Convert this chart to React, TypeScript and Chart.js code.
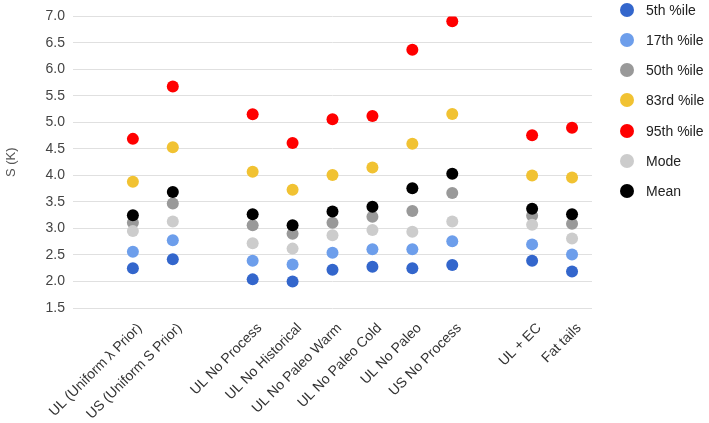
import React, { useEffect, useRef } from "react";
import { Chart, registerables } from "chart.js";

Chart.register(...registerables);

const categories = [
  "",
  "UL (Uniform λ Prior)",
  "US (Uniform S Prior)",
  "",
  "UL No Process",
  "UL No Historical",
  "UL No Paleo Warm",
  "UL No Paleo Cold",
  "UL No Paleo",
  "US No Process",
  "",
  "UL + EC",
  "Fat tails",
];

const p5 = [null, 2.25, 2.42, null, 2.04, 2.0, 2.22, 2.28, 2.25, 2.31, null, 2.39, 2.19];
const p17 = [null, 2.56, 2.78, null, 2.39, 2.32, 2.54, 2.61, 2.61, 2.76, null, 2.7, 2.51];
const p50 = [null, 3.11, 3.47, null, 3.06, 2.9, 3.11, 3.22, 3.33, 3.67, null, 3.24, 3.09];
const p83 = [null, 3.88, 4.53, null, 4.07, 3.73, 4.01, 4.15, 4.6, 5.16, null, 4.0, 3.96];
const p95 = [null, 4.69, 5.68, null, 5.155, 4.61, 5.06, 5.12, 6.37, 6.91, null, 4.76, 4.9];
const modeVals = [null, 2.95, 3.13, null, 2.72, 2.62, 2.87, 2.97, 2.94, 3.13, null, 3.07, 2.81];
const meanVals = [null, 3.25, 3.69, null, 3.27, 3.06, 3.32, 3.41, 3.76, 4.03, null, 3.37, 3.27];

const seriesNames = ["5th %ile", "17th %ile", "50th %ile", "83rd %ile", "95th %ile", "Mode", "Mean"];
const seriesColors = ["#3366cc", "#6d9eeb", "#999999", "#f1c232", "#ff0000", "#cccccc", "#000000"];
const seriesData = [p5, p17, p50, p83, p95, modeVals, meanVals];

const yMin = 1.5;
const yMax = 7.0;
const yStep = 0.5;
const yTitle = "S (K)";

const FONT = 'Arial, "Liberation Sans", sans-serif';

export default function App() {
  const canvasRef = useRef<HTMLCanvasElement | null>(null);

  useEffect(() => {
    const canvas = canvasRef.current;
    if (!canvas) return;
    const chart = new Chart(canvas, {
      type: "line",
      data: {
        labels: categories,
        datasets: seriesData.map((d, i) => ({
          label: seriesNames[i],
          data: d,
          showLine: false,
          borderColor: seriesColors[i],
          backgroundColor: seriesColors[i],
          pointBackgroundColor: seriesColors[i],
          pointBorderColor: seriesColors[i],
          pointBorderWidth: 0,
          pointRadius: 6,
          pointHoverRadius: 6,
          order: seriesData.length - 1 - i,
        })),
      },
      options: {
        animation: false,
        responsive: false,
        maintainAspectRatio: false,
        layout: { padding: { top: 10, right: 8, left: 0, bottom: 0 } },
        plugins: {
          legend: { display: false },
          tooltip: { enabled: false },
        },
        scales: {
          x: {
            type: "category",
            offset: true,
            grid: { display: false },
            border: { display: false },
            ticks: {
              autoSkip: false,
              minRotation: 45,
              maxRotation: 45,
              labelOffset: 7,
              padding: 4,
              color: "#333333",
              font: { family: FONT, size: 14 },
            },
            afterFit: (scale: any) => {
              scale.height = 115;
            },
          },
          y: {
            min: yMin,
            max: yMax,
            grid: { color: "#e0e0e0", drawTicks: false, lineWidth: 1 },
            border: { display: false },
            ticks: {
              stepSize: yStep,
              padding: 8,
              color: "#444444",
              font: { family: FONT, size: 14 },
              callback: (v: any) => Number(v).toFixed(1),
            },
            title: {
              display: true,
              text: yTitle,
              color: "#555555",
              font: { family: FONT, size: 13 },
              padding: { top: 4, bottom: 0 },
            },
            afterFit: (scale: any) => {
              scale.width = 73;
            },
          },
        },
      },
    });
    return () => chart.destroy();
  }, []);

  return (
    <div style={{ position: "fixed", left: 0, top: 0, width: 709, height: 423, background: "#ffffff" }}>
      <canvas ref={canvasRef} width={600} height={423} style={{ position: "absolute", left: 0, top: 0 }} />
      {seriesNames.map((name, i) => (
        <div
          key={name}
          style={{
            position: "absolute",
            left: 620,
            top: 10 + i * 30.15 - 15,
            height: 30,
            display: "flex",
            alignItems: "center",
            fontFamily: FONT,
            fontSize: 14,
            color: "#222222",
            whiteSpace: "nowrap",
          }}
        >
          <span
            style={{
              display: "inline-block",
              width: 14,
              height: 14,
              borderRadius: 7,
              background: seriesColors[i],
              marginRight: 12,
            }}
          />
          <span>{name}</span>
        </div>
      ))}
    </div>
  );
}
